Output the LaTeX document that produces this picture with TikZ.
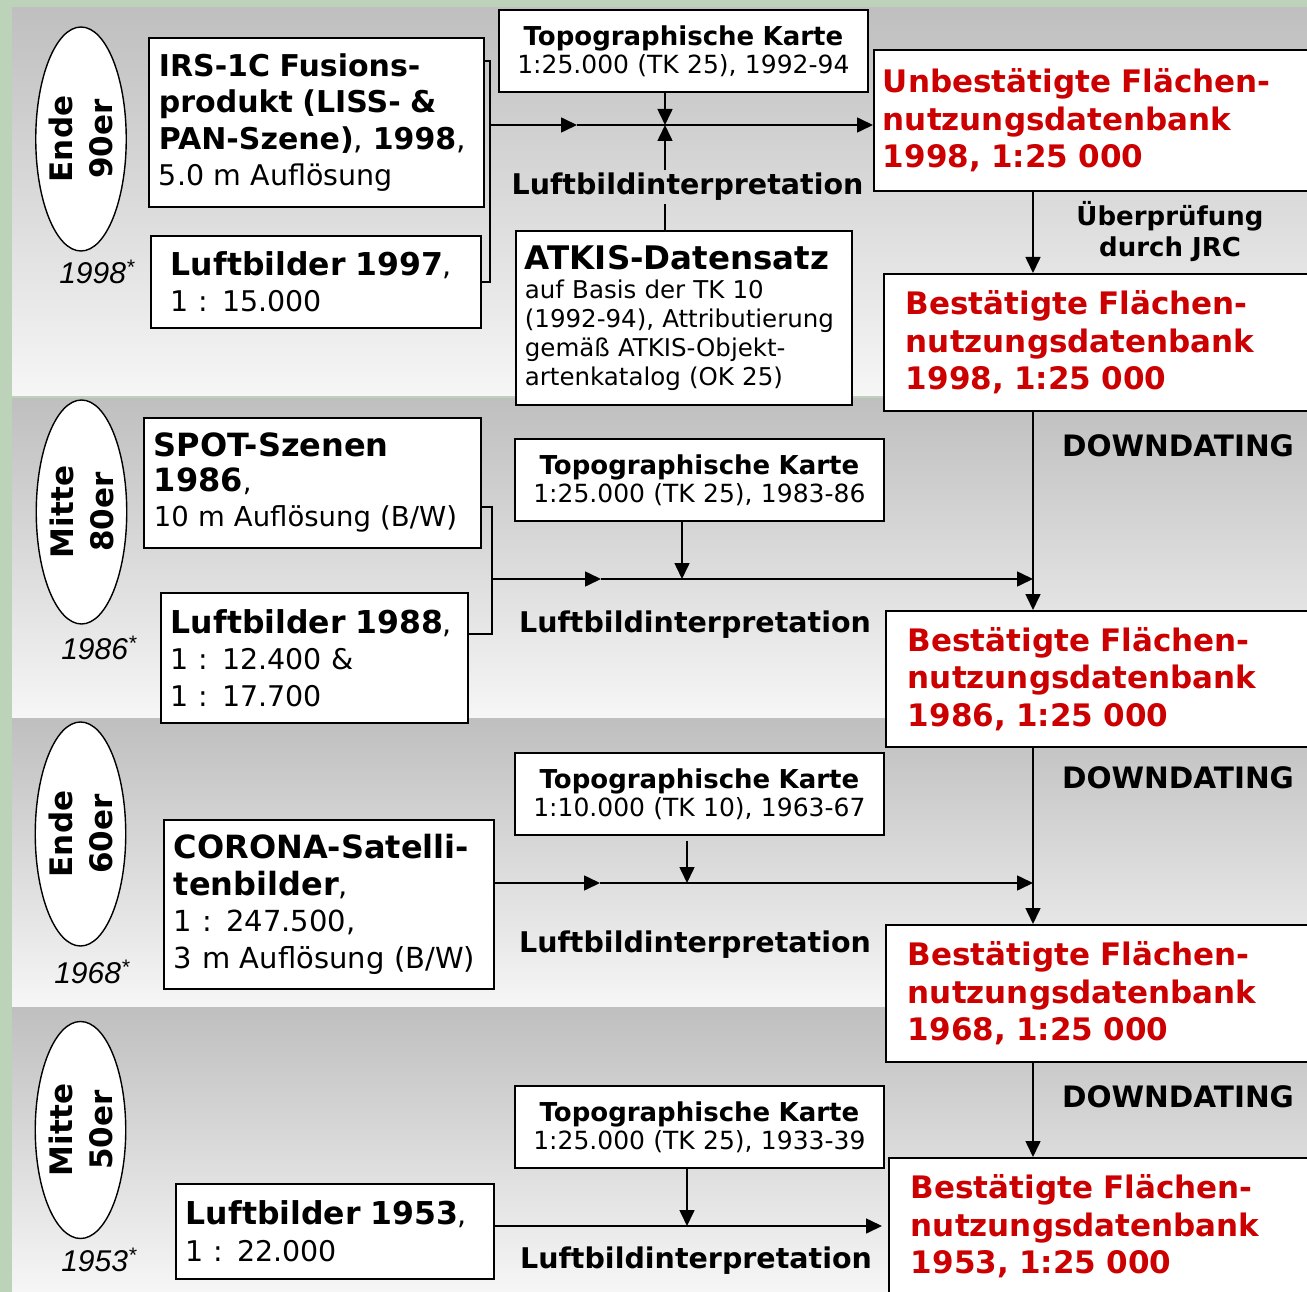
\documentclass[tikz,border=0pt]{standalone}
\usepackage{fontspec}
\setmainfont{DejaVu Sans}
\newfontfamily\yearfont{Liberation Sans}
\usetikzlibrary{arrows.meta,shapes.geometric}
\definecolor{dbred}{RGB}{204,0,0}
\definecolor{bandtop}{RGB}{191,191,191}
\definecolor{bandbot}{RGB}{246,246,246}
\definecolor{leaf}{RGB}{188,211,186}
\newcommand{\hd}[2][30]{{\fontsize{#1}{36.5}\selectfont\bfseries #2}}
\newcommand{\mapttl}[1]{{\fontsize{26}{28}\selectfont\bfseries #1}}
\newcommand{\rmcomma}{{\mdseries,}}
\tikzset{
  srcbox/.style={draw,line width=1.8pt,fill=white,anchor=north west,align=left,
    inner xsep=10pt,inner ysep=0pt,font=\fontsize{28.5}{36.5}\selectfont},
  mapbox/.style={draw,line width=1.8pt,fill=white,anchor=north west,align=center,
    inner xsep=4pt,inner ysep=0pt,font=\fontsize{25}{28}\selectfont},
  dbbox/.style={draw,line width=1.8pt,fill=white,anchor=north west,align=left,
    inner xsep=22pt,inner ysep=0pt,text=dbred,font=\fontsize{31}{37.5}\selectfont\bfseries},
  erabox/.style={draw,line width=1.4pt,fill=white,ellipse,rotate=90,inner sep=0pt,
    align=center,font=\fontsize{31}{40}\selectfont\bfseries},
  yearlbl/.style={font=\yearfont\itshape\fontsize{30}{30}\selectfont},
  steplbl/.style={anchor=base,inner sep=3pt,font=\fontsize{28.5}{31}\selectfont\bfseries},
  flow/.style={line width=1.6pt,-{Triangle[length=16pt,width=15pt]}},
  link/.style={line width=1.6pt},
}
\begin{document}
\begin{tikzpicture}[x=1pt,y=-1pt]
    \useasboundingbox (0,0) rectangle (1307,1292);
    \clip (0,0) rectangle (1307,1292);
    % background
    \fill[leaf] (0,0) rectangle (1307,1292);
    \shade[top color=bandtop,bottom color=bandbot] (12,8) rectangle (1307,395);
    \shade[top color=bandtop,bottom color=bandbot] (12,398) rectangle (1307,718);
    \shade[top color=bandtop,bottom color=bandbot] (12,718) rectangle (1307,1007);
    \shade[top color=bandtop,bottom color=bandbot] (12,1007) rectangle (1307,1292);
    % Ende 90er
    \node[erabox,minimum width=224pt,minimum height=86pt] (era1) at (81,139) {Ende\\90er};
    \node[yearlbl] (yr1) at (97,272) {1998\textsuperscript{*}};
    \node[srcbox,text width=315pt,minimum height=169pt] (irs) at (148,37)
        {\hd{IRS-1C Fusions-}\\\hd{produkt (LISS- \&}\\\hd{PAN-Szene)\rmcomma{} 1998\rmcomma}\\5.0 m Auflösung};
    \node[srcbox,inner xsep=20pt,text width=290pt,minimum height=92pt] (lb97) at (150,235)
        {\hd[31.5]{Luftbilder 1997}\rmcomma\\1 : 15.000};
    \node[mapbox,text width=361pt,minimum height=82pt] (tk1) at (498,9)
        {\mapttl{Topographische Karte}\\1:25.000 (TK 25), 1992-94};
    \node[steplbl] (li1) at (687.5,195) {Luftbildinterpretation};
    \node[srcbox,inner xsep=9pt,text width=318pt,minimum height=174pt,
        font=\fontsize{24.5}{29}\selectfont] (atkis) at (515,230)
        {{\fontsize{32.5}{29}\selectfont\bfseries ATKIS-Datensatz}\\auf Basis der TK 10\\(1992-94), Attributierung\\gemäß ATKIS-Objekt-\\artenkatalog (OK 25)};
    \node[dbbox,inner xsep=9pt,text width=439pt,minimum height=141pt] (db0) at (873,49)
        {Unbestätigte Flächen-\\nutzungsdatenbank\\1998, 1:25 000};
    \node[steplbl,anchor=center,align=center,font=\fontsize{26}{31}\selectfont\bfseries] (jrc) at (1170,232)
        {Überprüfung\\durch JRC};
    \node[dbbox,text width=403pt,minimum height=137pt] (db1) at (883,273)
        {Bestätigte Flächen-\\nutzungsdatenbank\\1998, 1:25 000};
    % Mitte 80er
    \node[erabox,minimum width=224pt,minimum height=84pt] (era2) at (81.5,512) {Mitte\\80er};
    \node[yearlbl] (yr2) at (99,648) {1986\textsuperscript{*}};
    \node[srcbox,text width=317pt,minimum height=130pt,font=\fontsize{27.5}{35}\selectfont] (spot) at (143,417)
        {\hd[32]{SPOT-Szenen}\\\hd[32]{1986}\rmcomma\\10 m Auflösung (B/W)};
    \node[srcbox,text width=287pt,minimum height=130pt] (lb88) at (160,592)
        {\hd[31.5]{Luftbilder 1988}\rmcomma\\1 : 12.400 \&\\1 : 17.700};
    \node[mapbox,text width=361pt,minimum height=82pt] (tk2) at (514,438)
        {\mapttl{Topographische Karte}\\1:25.000 (TK 25), 1983-86};
    \node[steplbl] (li2) at (695,632) {Luftbildinterpretation};
    \node[steplbl,font=\fontsize{29.5}{31}\selectfont\bfseries] (dd2) at (1178,456) {DOWNDATING};
    \node[dbbox,text width=401pt,minimum height=136pt] (db2) at (885,610)
        {Bestätigte Flächen-\\nutzungsdatenbank\\1986, 1:25 000};
    % Ende 60er
    \node[erabox,minimum width=224pt,minimum height=85pt] (era3) at (80.5,834) {Ende\\60er};
    \node[yearlbl] (yr3) at (92,972) {1968\textsuperscript{*}};
    \node[srcbox,text width=310pt,minimum height=169pt,font=\fontsize{29}{36.5}\selectfont] (corona) at (163,819)
        {\hd[32]{CORONA-Satelli-}\\\hd[32]{tenbilder}\rmcomma\\1 : 247.500,\\3 m Auflösung (B/W)};
    \node[mapbox,text width=361pt,minimum height=82pt] (tk3) at (514,752)
        {\mapttl{Topographische Karte}\\1:10.000 (TK 10), 1963-67};
    \node[steplbl] (li3) at (695,952) {Luftbildinterpretation};
    \node[steplbl,font=\fontsize{29.5}{31}\selectfont\bfseries] (dd3) at (1178,788) {DOWNDATING};
    \node[dbbox,text width=401pt,minimum height=137pt] (db3) at (885,924)
        {Bestätigte Flächen-\\nutzungsdatenbank\\1968, 1:25 000};
    % Mitte 50er
    \node[erabox,minimum width=217pt,minimum height=86pt] (era4) at (80.5,1130) {Mitte\\50er};
    \node[yearlbl] (yr4) at (99,1260) {1953\textsuperscript{*}};
    \node[srcbox,text width=298pt,minimum height=95pt] (lb53) at (175,1183)
        {\hd[31.5]{Luftbilder 1953}\rmcomma\\1 : 22.000};
    \node[mapbox,text width=361pt,minimum height=82pt] (tk4) at (514,1085)
        {\mapttl{Topographische Karte}\\1:25.000 (TK 25), 1933-39};
    \node[steplbl] (li4) at (696,1268) {Luftbildinterpretation};
    \node[steplbl,font=\fontsize{29.5}{31}\selectfont\bfseries] (dd4) at (1178,1107) {DOWNDATING};
    \node[dbbox,text width=398pt,minimum height=137pt] (db4) at (888,1157)
        {Bestätigte Flächen-\\nutzungsdatenbank\\1953, 1:25 000};
    % connectors
    \coordinate (v) at (1033,0);
    \coordinate (j1) at (490,125);
    \coordinate (m1) at (577,125);
    \coordinate (c1) at (665,125);
    \draw[link] ([yshift=-24pt]irs.north east) -| (j1) |- (lb97.east);
    \draw[flow] (j1) -- (m1);
    \draw[flow] (m1) -- (j1 -| db0.west);
    \draw[flow] (c1 |- tk1.south) -- (c1);
    \draw[flow] (c1 |- li1.north) -- (c1);
    \draw[link] (c1 |- atkis.north) -- (c1 |- li1.south);
    \draw[flow] (v |- db0.south) -- (v |- db1.north);
    \coordinate (j2) at (492,579);
    \coordinate (m2) at (601,579);
    \coordinate (c2) at (682,579);
    \draw[link] ([yshift=-90pt]spot.north east) -| (j2) |- ([yshift=-42pt]lb88.north east);
    \draw[flow] (j2) -- (m2);
    \draw[flow] (m2) -- (j2 -| v);
    \draw[flow] (c2 |- tk2.south) -- (c2);
    \draw[flow] (v |- db1.south) -- (v |- db2.north);
    \coordinate (m3) at (600,883);
    \coordinate (c3) at (687,883);
    \draw[flow] (corona.east |- m3) -- (m3);
    \draw[flow] (m3) -- (m3 -| v);
    \draw[flow,shorten <=5pt] (c3 |- tk3.south) -- (c3);
    \draw[flow] (v |- db2.south) -- (v |- db3.north);
    \coordinate (c4) at (687,1226);
    \draw[flow,shorten >=6pt] (lb53.east |- c4) -- (c4 -| db4.west);
    \draw[flow] (c4 |- tk4.south) -- (c4);
    \draw[flow] (v |- db3.south) -- (v |- db4.north);
\end{tikzpicture}
\end{document}
